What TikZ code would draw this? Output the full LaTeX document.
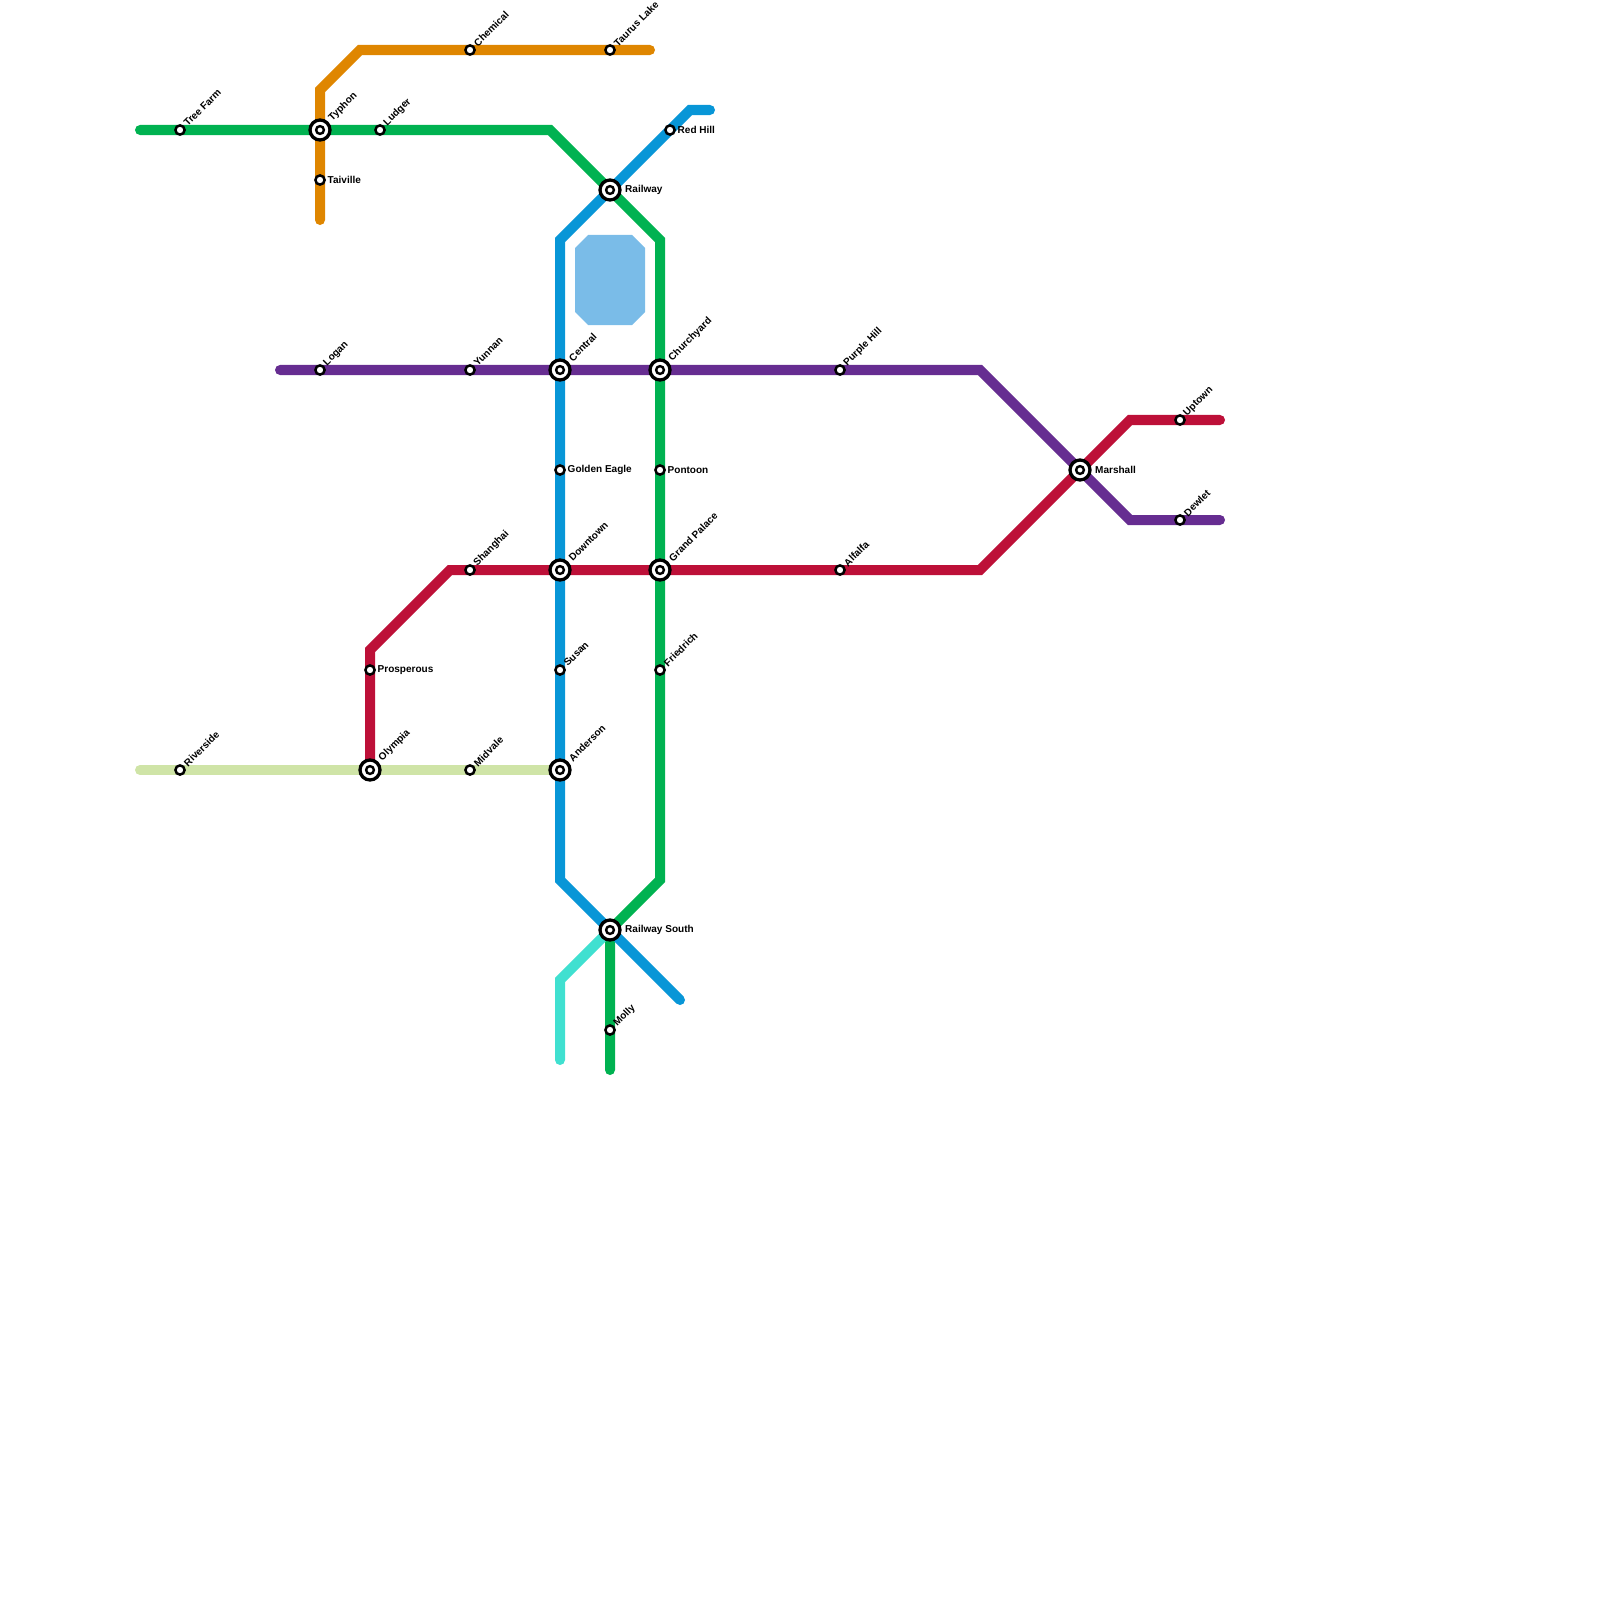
\documentclass[tikz,border=0pt]{standalone}
\usepackage{fontspec}
\setmainfont{Liberation Sans}
\usetikzlibrary{backgrounds}
\definecolor{linegreen}{HTML}{00B251}
\definecolor{lineorange}{HTML}{DF8600}
\definecolor{lineblue}{HTML}{0896D7}
\definecolor{linepurple}{HTML}{662D91}
\definecolor{linered}{HTML}{BD1038}
\definecolor{linelime}{HTML}{CFE4A7}
\definecolor{linecyan}{HTML}{40E0D0}
\definecolor{pool}{HTML}{7ABCE8}
\tikzset{
  metro/.style = {line width = 0.1cm, line cap = round, line join = miter},
  stopdot/.style = {circle, draw = black, fill = white, line width = 0.025cm, inner sep = 0, minimum size = 0.092cm},
  hubdot/.style = {circle, draw = black, fill = white, line width = 0.033cm, inner sep = 0, minimum size = 0.2cm,
    path picture = {\draw[line width = 0.024cm] (path picture bounding box.center) circle(0.039cm);}},
  stationtext/.style = {font = \fontsize{2.85pt}{3pt}\selectfont\bfseries, inner sep = 0, text = black},
  stopright/.style = {stationtext, anchor = west, xshift = 0.07cm, yshift = 0.003cm},
  hubright/.style = {stationtext, anchor = west, xshift = 0.145cm, yshift = 0.003cm},
  stoptilt/.style = {stationtext, anchor = west, xshift = 0.05cm, yshift = 0.05cm, rotate = 45},
  hubtilt/.style = {stationtext, anchor = west, xshift = 0.10cm, yshift = 0.10cm, rotate = 45}
}
\begin{document}
\begin{tikzpicture}[x = 0.01cm, y = -0.01cm]
\useasboundingbox (0,0) rectangle (1600,1600);

\fill[pool] (588,235)--(632,235)--(645,248)--(645,312)--(632,325)--(588,325)--(575,312)--(575,248)--cycle;

% hubs
\node[hubdot] (typhon) at (320,130) {};
\node[hubdot] (railway) at (610,190) {};
\node[hubdot] (central) at (560,370) {};
\node[hubdot] (churchyard) at (660,370) {};
\node[hubdot] (downtown) at (560,570) {};
\node[hubdot] (grandpalace) at (660,570) {};
\node[hubdot] (olympia) at (370,770) {};
\node[hubdot] (anderson) at (560,770) {};
\node[hubdot] (railwaysouth) at (610,930) {};
\node[hubdot] (marshall) at (1080,470) {};

% stops
\node[stopdot] (treefarm) at (180,130) {};
\node[stopdot] (ludger) at (380,130) {};
\node[stopdot] (taiville) at (320,180) {};
\node[stopdot] (chemical) at (470,50) {};
\node[stopdot] (tauruslake) at (610,50) {};
\node[stopdot] (redhill) at (670,130) {};
\node[stopdot] (logan) at (320,370) {};
\node[stopdot] (yunnan) at (470,370) {};
\node[stopdot] (purplehill) at (840,370) {};
\node[stopdot] (goldeneagle) at (560,470) {};
\node[stopdot] (pontoon) at (660,470) {};
\node[stopdot] (shanghai) at (470,570) {};
\node[stopdot] (alfalfa) at (840,570) {};
\node[stopdot] (prosperous) at (370,670) {};
\node[stopdot] (susan) at (560,670) {};
\node[stopdot] (friedrich) at (660,670) {};
\node[stopdot] (riverside) at (180,770) {};
\node[stopdot] (midvale) at (470,770) {};
\node[stopdot] (molly) at (610,1030) {};
\node[stopdot] (uptown) at (1180,420) {};
\node[stopdot] (dewlet) at (1180,520) {};

% bends and line ends
\coordinate (orangeend) at (320,220);
\coordinate (orangebendb) at (320,90);
\coordinate (orangebenda) at (360,50);
\coordinate (orangestart) at (650,50);
\coordinate (greenstart) at (140,130);
\coordinate (greenbenda) at (550,130);
\coordinate (greenbendb) at (660,240);
\coordinate (greenbendc) at (660,880);
\coordinate (greenend) at (610,1070);
\coordinate (bluestart) at (710,110);
\coordinate (bluebenda) at (690,110);
\coordinate (bluebendb) at (560,240);
\coordinate (bluebendc) at (560,880);
\coordinate (blueend) at (680,1000);
\coordinate (cyanbend) at (560,980);
\coordinate (cyanend) at (560,1060);
\coordinate (purplestart) at (280,370);
\coordinate (purplebenda) at (980,370);
\coordinate (purplebendb) at (1130,520);
\coordinate (purpleend) at (1220,520);
\coordinate (redbenda) at (370,650);
\coordinate (redbendb) at (450,570);
\coordinate (redbendc) at (980,570);
\coordinate (redbendd) at (1130,420);
\coordinate (redend) at (1220,420);
\coordinate (limestart) at (140,770);

\begin{pgfonlayer}{background}
\draw[metro, lineorange] (orangeend)--(taiville.center)--(typhon.center)--(orangebendb)--(orangebenda)--(chemical.center)--(tauruslake.center)--(orangestart);
\draw[metro, linegreen] (greenstart)--(treefarm.center)--(typhon.center)--(ludger.center)--(greenbenda)--(railway.center)--(greenbendb)--(churchyard.center)--(pontoon.center)--(grandpalace.center)--(friedrich.center)--(greenbendc)--(railwaysouth.center)--(molly.center)--(greenend);
\draw[metro, linecyan] (railwaysouth.center)--(cyanbend)--(cyanend);
\draw[metro, lineblue] (bluestart)--(bluebenda)--(redhill.center)--(railway.center)--(bluebendb)--(central.center)--(goldeneagle.center)--(downtown.center)--(susan.center)--(anderson.center)--(bluebendc)--(railwaysouth.center)--(blueend);
\draw[metro, linepurple] (purplestart)--(logan.center)--(yunnan.center)--(central.center)--(churchyard.center)--(purplehill.center)--(purplebenda)--(marshall.center)--(purplebendb)--(dewlet.center)--(purpleend);
\draw[metro, linered] (olympia.center)--(prosperous.center)--(redbenda)--(redbendb)--(shanghai.center)--(downtown.center)--(grandpalace.center)--(alfalfa.center)--(redbendc)--(marshall.center)--(redbendd)--(uptown.center)--(redend);
\draw[metro, linelime] (limestart)--(riverside.center)--(olympia.center)--(midvale.center)--(anderson.center);
\end{pgfonlayer}

% names
\node[stoptilt] (treefarmname) at (treefarm) {Tree Farm};
\node[hubtilt] (typhonname) at (typhon) {Typhon};
\node[stoptilt] (ludgername) at (ludger) {Ludger};
\node[stopright] (taivillename) at (taiville) {Taiville};
\node[stoptilt] (chemicalname) at (chemical) {Chemical};
\node[stoptilt] (tauruslakename) at (tauruslake) {Taurus Lake};
\node[stopright] (redhillname) at (redhill) {Red Hill};
\node[hubright] (railwayname) at (railway) {Railway};
\node[stoptilt] (loganname) at (logan) {Logan};
\node[stoptilt] (yunnanname) at (yunnan) {Yunnan};
\node[hubtilt] (centralname) at (central) {Central};
\node[hubtilt] (churchyardname) at (churchyard) {Churchyard};
\node[stoptilt] (purplehillname) at (purplehill) {Purple Hill};
\node[stopright] (goldeneaglename) at (goldeneagle) {Golden Eagle};
\node[stopright] (pontoonname) at (pontoon) {Pontoon};
\node[hubright] (marshallname) at (marshall) {Marshall};
\node[stoptilt] (uptownname) at (uptown) {Uptown};
\node[stoptilt] (dewletname) at (dewlet) {Dewlet};
\node[stoptilt] (shanghainame) at (shanghai) {Shanghai};
\node[hubtilt] (downtownname) at (downtown) {Downtown};
\node[hubtilt] (grandpalacename) at (grandpalace) {Grand Palace};
\node[stoptilt] (alfalfaname) at (alfalfa) {Alfalfa};
\node[stopright] (prosperousname) at (prosperous) {Prosperous};
\node[stoptilt] (susanname) at (susan) {Susan};
\node[stoptilt] (friedrichname) at (friedrich) {Friedrich};
\node[stoptilt] (riversidename) at (riverside) {Riverside};
\node[hubtilt] (olympianame) at (olympia) {Olympia};
\node[stoptilt] (midvalename) at (midvale) {Midvale};
\node[hubtilt] (andersonname) at (anderson) {Anderson};
\node[hubright] (railwaysouthname) at (railwaysouth) {Railway South};
\node[stoptilt] (mollyname) at (molly) {Molly};
\end{tikzpicture}
\end{document}
